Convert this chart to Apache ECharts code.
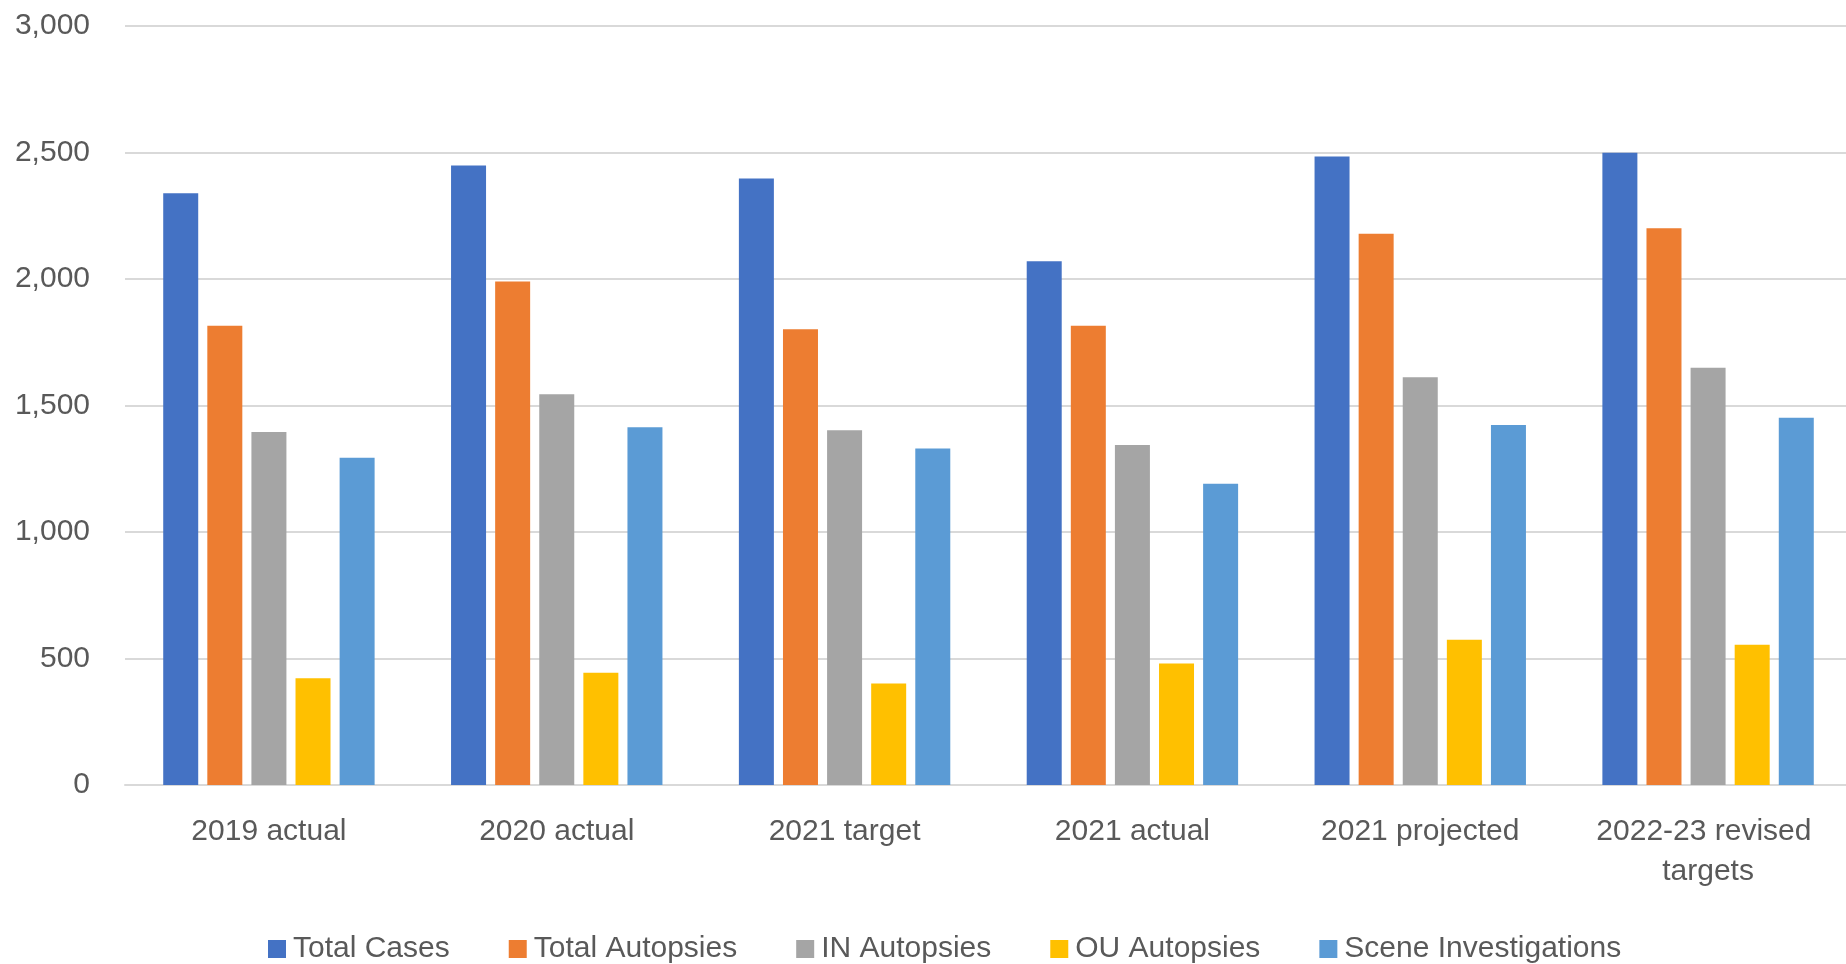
<!DOCTYPE html>
<html>
<head>
<meta charset="utf-8">
<script src="https://cdn.jsdelivr.net/npm/echarts@6/dist/echarts.min.js"></script>
<style>
  html, body { margin: 0; padding: 0; background: #ffffff; overflow: hidden; }
  #chart { width: 1852px; height: 964px; }
</style>
</head>
<body>
<div id="chart"></div>
<script>
const categories = ['2019 actual', '2020 actual', '2021 target', '2021 actual', '2021 projected', '2022-23 revised targets'];
const seriesNames = ['Total Cases', 'Total Autopsies', 'IN Autopsies', 'OU Autopsies', 'Scene Investigations'];
const totalCases = [2339, 2449, 2397, 2070, 2484, 2499];
const totalAutopsies = [1815, 1990, 1801, 1815, 2179, 2201];
const inAutopsies = [1395, 1544, 1402, 1344, 1612, 1649];
const ouAutopsies = [422, 444, 401, 480, 574, 554];
const sceneInvestigations = [1293, 1414, 1330, 1191, 1423, 1452];
const yTicks = [0, 500, 1000, 1500, 2000, 2500, 3000];

const colors = ['#4472C4', '#ED7D31', '#A5A5A5', '#FFC000', '#5B9BD5'];
const values = [totalCases, totalAutopsies, inAutopsies, ouAutopsies, sceneInvestigations];
const FONT = "'Liberation Sans', Arial, sans-serif";
const TEXT = '#595959';

const chart = echarts.init(document.getElementById('chart'), null, { renderer: 'canvas' });
chart.setOption({
  animation: false,
  color: colors,
  grid: { left: 125, right: 0, top: 26, bottom: 179, containLabel: false },
  legend: {
    data: seriesNames,
    left: 263,
    top: 929,
    itemWidth: 18,
    itemHeight: 18,
    itemGap: 59,
    icon: 'rect',
    textStyle: { fontFamily: FONT, fontSize: 30, color: TEXT, padding: [0, 0, 0, 2] }
  },
  xAxis: {
    type: 'category',
    data: categories,
    axisTick: { show: false },
    axisLine: { show: true, lineStyle: { color: '#d9d9d9', width: 2 } },
    axisLabel: {
      interval: 0,
      margin: 27,
      fontFamily: FONT,
      fontSize: 30,
      lineHeight: 40,
      color: TEXT,
      width: 270,
      overflow: 'break'
    }
  },
  yAxis: {
    type: 'value',
    min: yTicks[0],
    max: yTicks[yTicks.length - 1],
    interval: yTicks[1] - yTicks[0],
    axisLine: { show: false },
    axisTick: { show: false },
    splitLine: { lineStyle: { color: '#d9d9d9', width: 2 } },
    axisLabel: {
      margin: 35,
      fontFamily: FONT,
      fontSize: 30,
      color: TEXT,
      formatter: v => v.toLocaleString('en-US')
    }
  },
  series: seriesNames.map((name, i) => ({
    name: name,
    type: 'bar',
    data: values[i],
    barWidth: 35,
    barGap: '26%',
    itemStyle: { color: colors[i] },
    emphasis: { disabled: true }
  }))
});
</script>
</body>
</html>
